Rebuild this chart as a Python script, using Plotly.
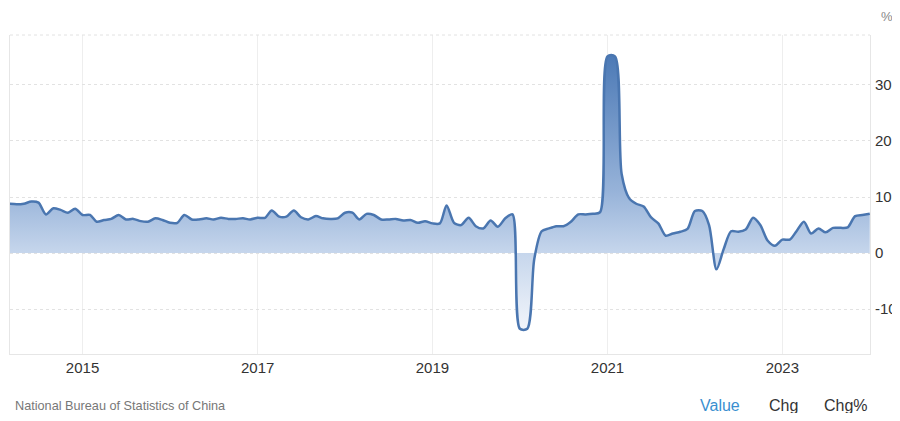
import pandas as pd
import plotly.graph_objects as go


# China industrial production, YoY %, monthly from Mar 2014 to Jan 2024
VALUES_2014 = [8.8, 8.7, 8.8, 9.2, 9.0, 6.9, 8.0, 7.7, 7.2, 7.9]
VALUES_2015 = [6.8, 6.8, 5.6, 5.9, 6.1, 6.8, 6.0, 6.1, 5.7, 5.6, 6.2, 5.9]
VALUES_2016 = [5.4, 5.4, 6.8, 6.0, 6.0, 6.2, 6.0, 6.3, 6.1, 6.1, 6.2, 6.0]
VALUES_2017 = [6.3, 6.3, 7.6, 6.5, 6.5, 7.6, 6.4, 6.0, 6.6, 6.2, 6.1, 6.2]
VALUES_2018 = [7.2, 7.2, 6.0, 7.0, 6.8, 6.0, 6.0, 6.1, 5.8, 5.9, 5.4, 5.7]
VALUES_2019 = [5.3, 5.3, 8.5, 5.4, 5.0, 6.3, 4.8, 4.4, 5.8, 4.7, 6.2, 6.9]
VALUES_2020 = [-13.5, -13.5, -1.1, 3.9, 4.4, 4.8, 4.8, 5.6, 6.9, 6.9, 7.0, 7.3]
VALUES_2021 = [35.1, 35.1, 14.1, 9.8, 8.8, 8.3, 6.4, 5.3, 3.1, 3.5, 3.8, 4.3]
VALUES_2022 = [7.5, 7.5, 5.0, -2.9, 0.7, 3.9, 3.8, 4.2, 6.3, 5.0, 2.2, 1.3]
VALUES_2023 = [2.4, 2.4, 3.9, 5.6, 3.5, 4.4, 3.7, 4.5, 4.5, 4.6, 6.6, 6.8]
VALUES_2024 = [7.0]

Y_TICKS = [-10, 0, 10, 20, 30]
Y_TICK_LABELS = ['-10', '0', '10', '20', '30']
SOURCE = 'National Bureau of Statistics of China'
BUTTONS = ['Value', 'Chg', 'Chg%']

LINE_COLOR = '#4a76b0'
GRID_COLOR = '#e2e2e2'
TEXT_COLOR = '#333333'
FONT = 'Liberation Sans, Arial, sans-serif'


values = (VALUES_2014 + VALUES_2015 + VALUES_2016 + VALUES_2017 + VALUES_2018
          + VALUES_2019 + VALUES_2020 + VALUES_2021 + VALUES_2022 + VALUES_2023
          + VALUES_2024)
dates = pd.date_range('2014-03-01', periods=len(values), freq='MS')

fig = go.Figure()

fig.add_trace(go.Scatter(
    x=dates,
    y=values,
    mode='lines',
    line=dict(color=LINE_COLOR, width=2.5, shape='spline', smoothing=0.8),
    fill='tozeroy',
    fillgradient=dict(
        type='vertical',
        start=-14,
        stop=36,
        colorscale=[[0, '#f3f6fb'], [0.28, '#c6d6ec'], [0.5, '#97b3d9'], [1, '#4a78b5']],
    ),
    hoverinfo='skip',
))

# dotted top border of the plot box
fig.add_shape(type='line', xref='paper', yref='paper', x0=0, x1=1, y0=1, y1=1,
              line=dict(color=GRID_COLOR, width=1, dash='dot'))

fig.add_annotation(text='%', xref='paper', yref='paper', x=1.02, y=1.0846,
                   xanchor='center', yanchor='top', showarrow=False, borderpad=0,
                   font=dict(size=13, color='#888888', family=FONT))

fig.add_annotation(text=SOURCE, xref='paper', yref='paper', x=0.004, y=-0.163,
                   xanchor='left', yanchor='middle', showarrow=False,
                   font=dict(size=12.7, color='#777777', family=FONT))

button_x = [720, 783, 846]
button_colors = ['#3a8fd0', TEXT_COLOR, TEXT_COLOR]
for label, bx, bc in zip(BUTTONS, button_x, button_colors):
    fig.add_annotation(text=label, xref='paper', yref='paper', x=(bx - 10) / 860,
                       y=-0.163, xanchor='center', yanchor='middle', showarrow=False,
                       font=dict(size=16, color=bc, family=FONT))

# the page body adds 8px margins, so the figure is shrunk to fit the window
fig.update_layout(
    width=892,
    height=405,
    margin=dict(l=2, r=30, t=27, b=59),
    paper_bgcolor='white',
    plot_bgcolor='white',
    showlegend=False,
    font=dict(family=FONT, color=TEXT_COLOR),
    xaxis=dict(
        type='date',
        range=['2014-03-04', '2024-01-02'],
        tick0='2015-01-01',
        dtick='M24',
        tickformat='%Y',
        showgrid=True,
        gridcolor='#eeeeee',
        showline=True,
        linecolor='#e6e6e6',
        ticks='',
        tickfont=dict(size=15, color=TEXT_COLOR),
        zeroline=False,
    ),
    yaxis=dict(
        side='right',
        range=[-18.0, 38.9],
        tickvals=Y_TICKS,
        ticktext=Y_TICK_LABELS,
        showgrid=True,
        gridcolor=GRID_COLOR,
        griddash='dot',
        showline=True,
        mirror=True,
        linecolor='#e6e6e6',
        ticks='',
        ticklen=0,
        ticklabelstandoff=1,
        tickfont=dict(size=15, color=TEXT_COLOR),
        zeroline=False,
        automargin=False,
    ),
)

fig.write_html('out.html')
